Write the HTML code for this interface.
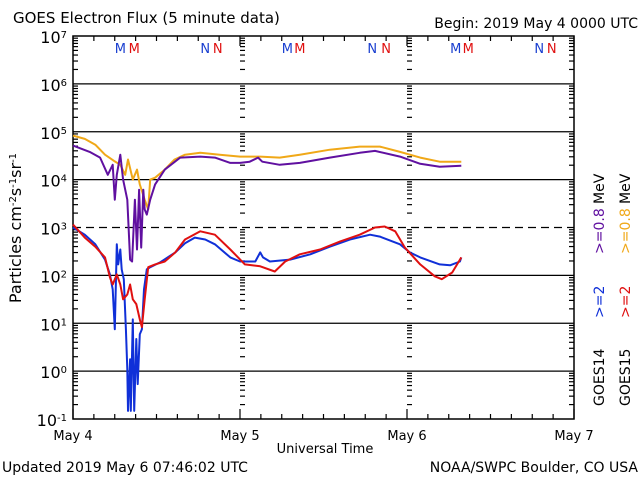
<!DOCTYPE html>
<html><head><meta charset="utf-8"><style>
body{margin:0;background:#fff;}
svg{display:block;font-family:"DejaVu Sans","Liberation Sans",sans-serif;}
</style></head><body>
<svg id="chart" width="640" height="480" viewBox="0 0 640 480" xmlns="http://www.w3.org/2000/svg">
<rect width="640" height="480" fill="#fff"/>
<text x="13" y="23" font-size="15">GOES Electron Flux (5 minute data)</text>
<text x="638" y="28" font-size="14" text-anchor="end">Begin: 2019 May 4 0000 UTC</text>
<text transform="translate(21,228) rotate(-90)" font-size="16" text-anchor="middle">Particles cm<tspan baseline-shift="super" font-size="10">-2</tspan>s<tspan baseline-shift="super" font-size="10">-1</tspan>sr<tspan baseline-shift="super" font-size="10">-1</tspan></text>
<text x="325" y="453" font-size="13" text-anchor="middle">Universal Time</text>
<text x="2" y="472" font-size="14">Updated 2019 May  6 07:46:02 UTC</text>
<text x="638" y="472" font-size="14" text-anchor="end">NOAA/SWPC Boulder, CO USA</text>
<g id="plot"></g>
</svg>
<script>
const dayLabels = ["May 4","May 5","May 6","May 7"];
const yExponents = [7,6,5,4,3,2,1,0,-1];
const orangeHours = [0,1.7,3.2,4.6,6.0,6.8,7.5,7.9,8.6,9.2,9.6,10.3,10.8,11.1,11.8,13.2,14.6,16.1,18.3,21.1,24.0,26.9,29.7,32.6,36.9,41.2,44.1,47.0,49.9,52.7,55.8];
const orangeLog = [4.92,4.85,4.73,4.52,4.38,4.31,4.10,4.42,4.0,4.21,3.90,3.58,3.375,4.0,4.04,4.21,4.42,4.52,4.56,4.52,4.48,4.48,4.46,4.52,4.625,4.69,4.69,4.58,4.46,4.375,4.375];
const purpleHours = [0,2.4,3.9,5.0,5.7,6.0,6.3,6.8,7.2,7.8,8.2,8.5,8.9,9.2,9.5,9.8,10.1,10.3,10.6,11.1,11.8,13.2,15.4,18.3,20.4,22.6,24.0,25.4,26.6,27.2,29.7,32.6,36.9,41.2,43.4,47.0,49.9,52.7,55.8];
const purpleLog = [4.71,4.58,4.46,4.10,4.31,3.58,4.10,4.52,4.0,3.58,2.33,2.29,3.58,2.54,3.79,2.58,3.79,3.375,3.27,3.58,3.90,4.21,4.46,4.48,4.46,4.35,4.35,4.375,4.46,4.375,4.31,4.35,4.46,4.56,4.60,4.48,4.33,4.27,4.29];
const blueHours = [0,1.7,3.2,4.6,5.3,5.7,6.0,6.3,6.5,6.8,7.0,7.3,7.6,7.8,7.9,8.2,8.3,8.6,8.8,9.1,9.3,9.6,9.9,10.2,10.6,11.1,12.5,14.7,16.1,17.5,19.0,20.4,22.6,24.0,26.2,26.9,27.3,28.3,31.2,34.1,36.9,39.8,42.7,44.1,47.0,48.4,49.9,52.7,54.2,55.6,55.8];
const blueLog = [3.0,2.85,2.65,2.33,2.02,1.71,0.875,2.65,2.23,2.54,2.125,1.92,0.875,0.04,-0.83,0.25,-0.83,1.08,-0.83,0.67,-0.27,0.77,0.875,1.71,2.125,2.17,2.27,2.48,2.67,2.79,2.75,2.65,2.375,2.29,2.29,2.48,2.375,2.29,2.33,2.44,2.60,2.75,2.85,2.81,2.65,2.48,2.375,2.23,2.21,2.29,2.375];
const redHours = [0,1.7,3.2,4.6,5.3,5.7,6.3,6.8,7.2,7.8,8.2,8.6,9.1,9.6,9.9,10.3,10.8,11.8,13.2,14.7,16.1,18.3,20.4,22.6,24.7,26.9,29.0,30.5,32.6,35.5,38.4,41.2,43.4,44.8,46.3,47.7,49.9,52.0,53.0,54.5,55.8];
const redLog = [3.06,2.79,2.60,2.375,1.96,1.81,2.02,1.81,1.5,1.6,1.81,1.5,1.4,1.08,0.92,1.5,2.17,2.23,2.29,2.48,2.75,2.92,2.85,2.54,2.23,2.19,2.08,2.29,2.44,2.54,2.71,2.85,3.0,3.02,2.92,2.58,2.23,1.98,1.92,2.06,2.375];
const mHours = [[6.8,8.8],[19.0,20.8],[30.8,32.6],[43.0,45.0],[55.0,56.8],[67.0,68.8]];
const mLabels = ["M","N","M","N","M","N"];

const L=73,R=574,T=36,B=419;
const xs=h=>L+(R-L)*h/72;
const ys=e=>T+(B-T)*(7-e)/8;
const NS="http://www.w3.org/2000/svg";
const g=document.getElementById('plot');
function mk(tag,attrs,parent){const e=document.createElementNS(NS,tag);for(const k in attrs)e.setAttribute(k,attrs[k]);(parent||g).appendChild(e);return e;}

yExponents.forEach(e=>{
  const y=ys(e);
  if(e<7&&e>-1){const ln=mk('line',{x1:L,x2:R,y1:y,y2:y,stroke:'#000','stroke-width':1.3,'stroke-dasharray':e===3?'8,5':''});
  
  }
  const t=mk('text',{x:L-6,y:y+7,'font-size':16,'text-anchor':'end'});
  
  
  t.textContent='10';
  const s=mk('tspan',{'baseline-shift':'super','font-size':10},t);s.textContent=String(e);
  if(e>-1){for(let k=2;k<=9;k++){const yy=ys(e-1+Math.log10(k));
    [[L,L+5],[R-5,R],[xs(24),xs(24)+5],[xs(48),xs(48)+5]].forEach(p=>mk('line',{x1:p[0],x2:p[1],y1:yy,y2:yy,stroke:'#000','stroke-width':1.2}));}}
});
for(let h=0;h<=72;h+=3){const x=xs(h);const len=h%24===0?10:5;
  mk('line',{x1:x,x2:x,y1:B,y2:B-len,stroke:'#000','stroke-width':1.2});
  mk('line',{x1:x,x2:x,y1:T,y2:T+len,stroke:'#000','stroke-width':1.2});}
dayLabels.forEach((d,i)=>{const t=mk('text',{x:xs(i*24),y:440,'font-size':13,'text-anchor':'middle'});
  
  
  t.textContent=d;});
const frame=mk('rect',{x:L,y:T,width:R-L,height:B-T,fill:'none',stroke:'#000','stroke-width':1.5});


mHours.forEach((p,i)=>{
  const a=mk('text',{x:xs(p[0]),y:53,'font-size':13,fill:'#1a3fd0','text-anchor':'middle'});
  
  
  a.textContent=mLabels[i];
  const b=mk('text',{x:xs(p[1]),y:53,'font-size':13,fill:'#e01010','text-anchor':'middle'});
  
  
  b.textContent=mLabels[i];
});
function series(hours,logs,color,name){
  const d=hours.map((h,i)=>(i?'L':'M')+xs(h).toFixed(1)+' '+ys(logs[i]).toFixed(1)).join(' ');
  const p=mk('path',{d:d,fill:'none',stroke:color,'stroke-width':2,'stroke-linejoin':'round'});
  
  
}
series(orangeHours,orangeLog,'#f0a818','goes15-0.8mev-line');
series(purpleHours,purpleLog,'#6010a0','goes14-0.8mev-line');
series(blueHours,blueLog,'#1030d8','goes14-2mev-line');
series(redHours,redLog,'#e01010','goes15-2mev-line');
const leg=[[598,406,'GOES14','#000'],[598,318,'>=2','#1030d8'],[598,254,'>=0.8','#6010a0'],[598,204,'MeV','#000'],
  [624,406,'GOES15','#000'],[624,318,'>=2','#e01010'],[624,254,'>=0.8','#f0a818'],[624,204,'MeV','#000']];
leg.forEach(l=>{const t=mk('text',{transform:`translate(${l[0]+6},${l[1]}) rotate(-90)`,'font-size':14,fill:l[3]});
  
  
  t.textContent=l[2];});
</script>
</body></html>
